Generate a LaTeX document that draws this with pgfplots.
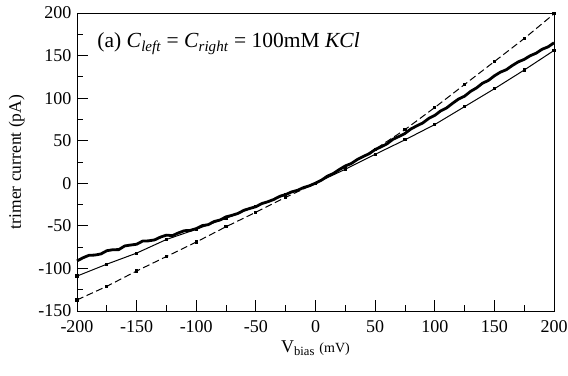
\documentclass[border=0pt]{standalone}
\usepackage{pgfplots}
\pgfplotsset{compat=1.18}
\usepackage{fontspec}
\setmainfont{Liberation Serif}
\usetikzlibrary{calc}
\begin{document}
\begin{tikzpicture}
\begin{axis}[
  scale only axis,
  width=477pt, height=298pt,
  xmin=-200, xmax=200, ymin=-150, ymax=200,
  xtick={-200,-150,...,200},
  ytick={-150,-100,...,200},
  minor x tick num=1, minor y tick num=1,
  xtick pos=bottom, ytick pos=left,
  tick align=inside,
  major tick length=11pt, minor tick length=6pt,
  axis line style={line width=0.8pt},
  every tick/.style={line width=0.8pt, black},
  /pgf/number format/assume math mode=true,
  ticklabel style={font=\fontsize{18}{20}\selectfont},
  xticklabel style={yshift=-6pt},
  yticklabel style={xshift=-2pt},
  xlabel={\fontsize{18}{20}\selectfont V\textsubscript{bias} {\fontsize{14}{16}\selectfont (mV)}},
  ylabel={\fontsize{17.5}{20}\selectfont trimer current (pA)},
  xlabel style={yshift=-1pt},
  ylabel style={yshift=7pt},
  clip=false,
]
\coordinate (SW) at (rel axis cs:0,0);
\coordinate (NE) at (rel axis cs:1,1);
% fitted curve (solid)
\addplot[black, line width=1pt, mark=square*, mark size=1.1pt] coordinates {
(-200,-109) (-175,-95) (-150,-82) (-125,-66) (-100,-54) (-75,-41) (-50,-27) (-25,-13.5)
(0,0) (25,16.5) (50,34) (75,51) (100,69) (125,90) (150,111) (175,133) (200,156)
};
% dashed curve
\addplot[black, line width=1pt, dash pattern=on 7pt off 3.5pt, mark=square*, mark size=1.1pt, mark options={solid}] coordinates {
(-200,-137) (-175,-121) (-150,-103) (-125,-86) (-100,-69) (-75,-51) (-50,-34) (-25,-16.5)
(0,0) (25,19) (50,40) (75,63) (100,89) (125,116) (150,143) (175,170) (200,199)
};
% measured data (thick noisy)
\addplot[black, line width=2.8pt, line join=round] coordinates {
(-200,-91.2) (-195,-87.5) (-190,-84.6) (-185,-84.3) (-180,-83) (-175,-79.2) (-170,-78) (-165,-77.9)
(-160,-73.6) (-155,-72.5) (-150,-71.6) (-145,-67.9) (-140,-67.6) (-135,-66.5) (-130,-63.2) (-125,-60.9)
(-120,-61.5) (-115,-58.3) (-110,-55.7) (-105,-55.3) (-100,-53.2) (-95,-49.7) (-90,-48.6) (-85,-44.9)
(-80,-43.1) (-75,-39.4) (-70,-37.6) (-65,-35.4) (-60,-31.7) (-55,-29.5) (-50,-27.5) (-45,-23.8)
(-40,-21.7) (-35,-19) (-30,-15.3) (-25,-13.2) (-20,-10.1) (-15,-8.2) (-10,-5) (-5,-2.9)
(0,0.2) (5,3.7) (10,8.4) (15,11.5) (20,16.2) (25,20.4) (30,23.2) (35,27.9) (40,31.5) (45,34.7)
(50,39.6) (55,42.8) (60,46.4) (65,51.7) (70,55) (75,58.5) (80,63.8) (85,67.5) (90,70.9)
(95,76.2) (100,79.7) (105,85.1) (110,88.6) (115,94) (120,99) (125,102.3) (130,107.9)
(135,112) (140,117.5) (145,120.8) (150,126.2) (155,130.5) (160,133.4) (165,138.3)
(170,142.6) (175,145.5) (180,149.8) (185,152.8) (190,157.4) (195,160.2) (200,165)
};
\node[anchor=base west, inner sep=0pt, font=\fontsize{21.5}{24}\selectfont] at (axis cs:-183,159)
  {(a) \textit{C}\textsubscript{\textit{left}} = \textit{C}\textsubscript{\textit{right}} = 100mM \textit{KCl}};
\end{axis}
\pgfresetboundingbox
\path ($(SW)+(-77pt,-64pt)$) rectangle ($(NE)+(14pt,13pt)$);
\end{tikzpicture}
\end{document}
